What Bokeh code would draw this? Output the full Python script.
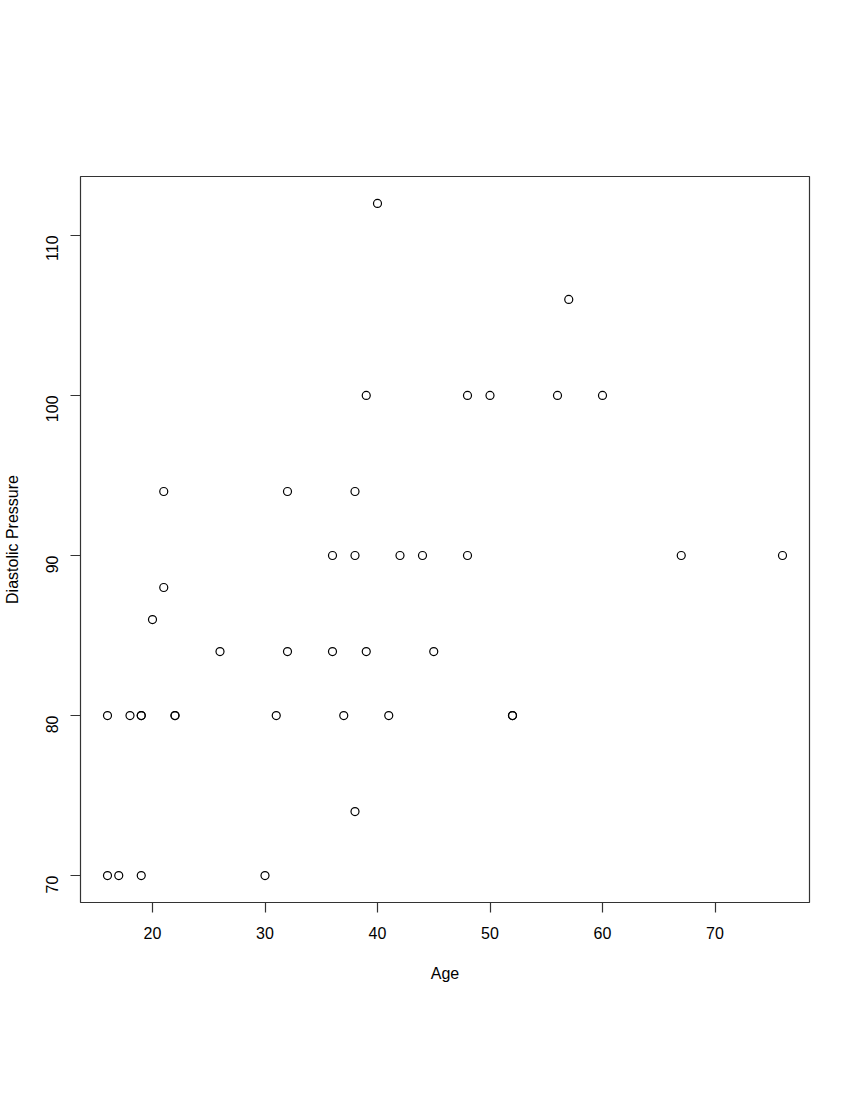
import math
from bokeh.plotting import figure
from bokeh.models import Range1d, FixedTicker
from bokeh.embed import file_html
from bokeh.resources import INLINE

age = [16, 17, 19, 30,
       38,
       16, 18, 19, 19, 22, 22, 31, 37, 41, 52, 52,
       26, 32, 36, 39, 45,
       20,
       21,
       36, 38, 42, 44, 48, 67, 76,
       21, 32, 38,
       39, 48, 50, 56, 60,
       57,
       40]
diastolic = [70, 70, 70, 70,
             74,
             80, 80, 80, 80, 80, 80, 80, 80, 80, 80, 80,
             84, 84, 84, 84, 84,
             86,
             88,
             90, 90, 90, 90, 90, 90, 90,
             94, 94, 94,
             100, 100, 100, 100, 100,
             106,
             112]
x_ticks = [20, 30, 40, 50, 60, 70]
y_ticks = [70, 80, 90, 100, 110]

FONT = "Liberation Sans"

p = figure(width=834, height=1084, output_backend="svg", toolbar_location=None,
           x_range=Range1d(13.6, 78.4), y_range=Range1d(68.32, 113.68),
           min_border_left=77, min_border_right=25, min_border_top=176, min_border_bottom=182)

p.scatter(age, diastolic, marker="circle", size=8, fill_color=None,
          line_color="black", line_width=1.2)

p.grid.visible = False
p.outline_line_color = "#333333"
p.outline_line_width = 1.2
p.background_fill_color = "white"
p.border_fill_color = "white"

for ax in (p.xaxis[0], p.yaxis[0]):
    ax.axis_line_color = None
    ax.major_tick_line_color = "#333333"
    ax.major_tick_line_width = 1.2
    ax.major_tick_out = 10
    ax.major_tick_in = 0
    ax.minor_tick_line_color = None
    ax.major_label_text_font = FONT
    ax.major_label_text_font_size = "16px"
    ax.major_label_text_color = "black"
    ax.axis_label_text_font = FONT
    ax.axis_label_text_font_size = "16px"
    ax.axis_label_text_font_style = "normal"
    ax.axis_label_text_color = "black"

p.xaxis[0].ticker = FixedTicker(ticks=x_ticks)
p.yaxis[0].ticker = FixedTicker(ticks=y_ticks)
p.xaxis[0].axis_label = "Age"
p.yaxis[0].axis_label = "Diastolic Pressure"
p.xaxis[0].major_label_standoff = 14
p.xaxis[0].axis_label_standoff = 23
p.yaxis[0].major_label_orientation = math.pi / 2
p.yaxis[0].major_label_standoff = 18
p.yaxis[0].axis_label_standoff = 17

open("out.html", "w").write(file_html(p, INLINE))
